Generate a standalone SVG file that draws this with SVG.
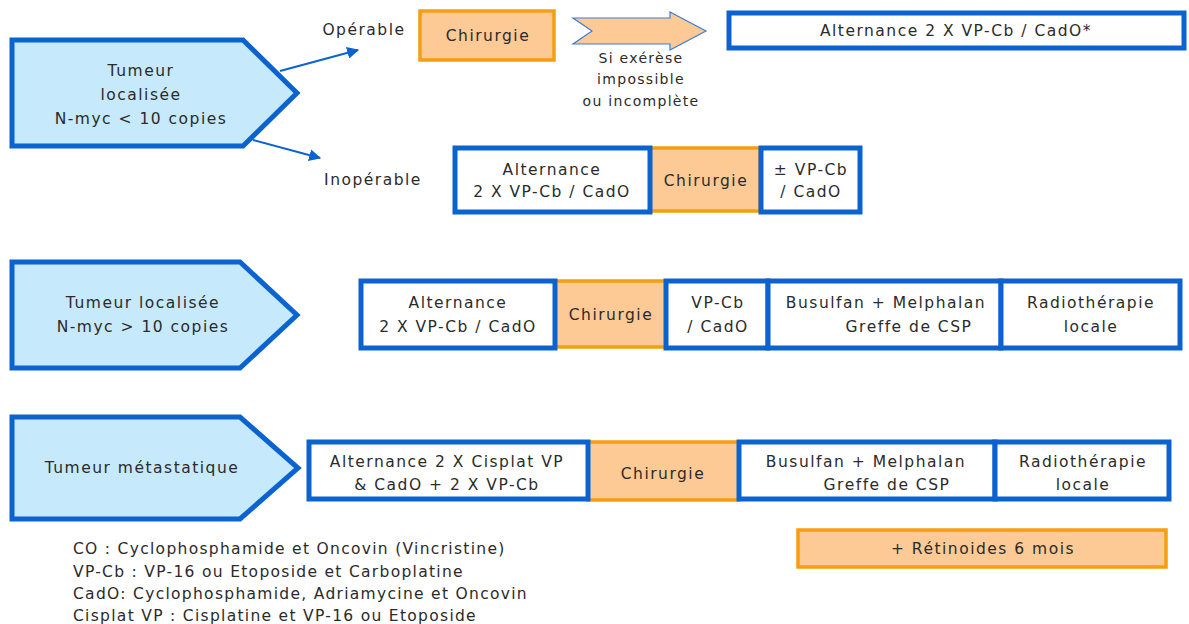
<svg xmlns="http://www.w3.org/2000/svg" width="1189" height="624" viewBox="0 0 1189 624">
<style>
.pent{fill:#c6e9fb;stroke:#0b63cf;stroke-width:5;stroke-linejoin:miter}
.wb{fill:#fff;stroke:#0b63cf;stroke-width:5}
.ob{fill:#fdca95;stroke:#f59e10;stroke-width:3.5}
.t{font-family:"DejaVu Sans",sans-serif;font-size:15.5px;letter-spacing:1.5px;fill:#2b2b2b;text-anchor:middle}
.s{font-size:14px;letter-spacing:1.3px}
.lg{font-family:"DejaVu Sans",sans-serif;font-size:15.5px;letter-spacing:1.3px;fill:#2b2b2b}
.conn{stroke:#0b63cf;stroke-width:2;fill:none}
</style>
<defs>
<marker id="ah" viewBox="0 0 10 10" refX="9" refY="5" markerWidth="6" markerHeight="6" orient="auto" markerUnits="strokeWidth"><path d="M0,0 L10,5 L0,10 z" fill="#0b63cf"/></marker>
</defs>
<g id="n-tumeur1">
<polygon class="pent" points="12,40 243,40 297,93 243,146 12,146"/>
<text class="t" x="141" y="76">Tumeur</text>
<text class="t" x="141" y="100">localisée</text>
<text class="t" x="141" y="124">N-myc &lt; 10 copies</text>
</g>
<g id="connectors">
<line class="conn" x1="280" y1="71" x2="358" y2="50" marker-end="url(#ah)"/>
<line class="conn" x1="253" y1="140" x2="320" y2="158" marker-end="url(#ah)"/>
</g>
<g id="l-operable"><text class="t" x="364" y="35">Opérable</text></g>
<g id="l-inoperable"><text class="t" x="373" y="185">Inopérable</text></g>
<g id="n-chir1">
<rect class="ob" x="420" y="11" width="134" height="49"/>
<text class="t" x="488" y="41">Chirurgie</text>
</g>
<g id="n-blockarrow">
<polygon points="573,18 670,18 670,12 706,31 670,50 670,44 573,44 592,31" fill="#fdca95" stroke="#3a7fd8" stroke-width="1.2"/>
<text class="t s" x="641" y="63">Si exérèse</text>
<text class="t s" x="641" y="84">impossible</text>
<text class="t s" x="641" y="106">ou incomplète</text>
</g>
<g id="n-alt1">
<rect class="wb" x="729" y="13" width="455" height="35"/>
<text class="t" x="956" y="36">Alternance 2 X VP-Cb / CadO*</text>
</g>
<g id="row-inoperable">
<rect class="ob" x="650" y="148" width="110" height="63"/>
<rect class="wb" x="455" y="148" width="195" height="64"/>
<rect class="wb" x="761" y="148" width="99" height="64"/>
<text class="t" x="552" y="175">Alternance</text>
<text class="t" x="552" y="197">2 X VP-Cb / CadO</text>
<text class="t" x="706" y="186">Chirurgie</text>
<text class="t" x="811" y="175">± VP-Cb</text>
<text class="t" x="811" y="197">/ CadO</text>
</g>
<g id="n-tumeur2">
<polygon class="pent" points="12,262 240,262 297,315 240,368 12,368"/>
<text class="t" x="143" y="308">Tumeur localisée</text>
<text class="t" x="143" y="332">N-myc &gt; 10 copies</text>
</g>
<g id="row-2">
<rect class="ob" x="555" y="281" width="111" height="66"/>
<rect class="wb" x="361" y="281" width="194" height="67"/>
<rect class="wb" x="666" y="281" width="102" height="67"/>
<rect class="wb" x="768" y="281" width="233" height="67"/>
<rect class="wb" x="1001" y="281" width="179" height="67"/>
<text class="t" x="458" y="308">Alternance</text>
<text class="t" x="458" y="332">2 X VP-Cb / CadO</text>
<text class="t" x="611" y="320">Chirurgie</text>
<text class="t" x="718" y="308">VP-Cb</text>
<text class="t" x="718" y="332">/ CadO</text>
<text class="t" x="886" y="308">Busulfan + Melphalan</text>
<text class="t" x="909" y="332">Greffe de CSP</text>
<text class="t" x="1091" y="308">Radiothérapie</text>
<text class="t" x="1091" y="332">locale</text>
</g>
<g id="n-tumeur3">
<polygon class="pent" points="12,417 240,417 298,468 240,519 12,519"/>
<text class="t" x="142" y="473">Tumeur métastatique</text>
</g>
<g id="row-3">
<rect class="ob" x="588" y="442" width="151" height="58"/>
<rect class="wb" x="309" y="442" width="279" height="57"/>
<rect class="wb" x="739" y="442" width="256" height="57"/>
<rect class="wb" x="995" y="442" width="174" height="57"/>
<text class="t" x="447" y="467">Alternance 2 X Cisplat VP</text>
<text class="t" x="447" y="490">&amp; CadO + 2 X VP-Cb</text>
<text class="t" x="663" y="479">Chirurgie</text>
<text class="t" x="866" y="467">Busulfan + Melphalan</text>
<text class="t" x="887" y="490">Greffe de CSP</text>
<text class="t" x="1083" y="467">Radiothérapie</text>
<text class="t" x="1083" y="490">locale</text>
</g>
<g id="n-retinoides">
<rect class="ob" x="798" y="530" width="368" height="37"/>
<text class="t" x="983" y="554">+ Rétinoides 6 mois</text>
</g>
<g id="legend">
<text class="lg" x="73" y="554">CO : Cyclophosphamide et Oncovin (Vincristine)</text>
<text class="lg" x="73" y="576.5">VP-Cb : VP-16 ou Etoposide et Carboplatine</text>
<text class="lg" x="73" y="599">CadO: Cyclophosphamide, Adriamycine et Oncovin</text>
<text class="lg" x="73" y="620.5">Cisplat VP : Cisplatine et VP-16 ou Etoposide</text>
</g>
</svg>
